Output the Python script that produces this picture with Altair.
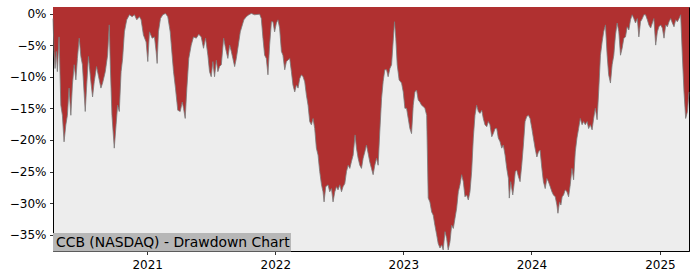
import altair as alt
import numpy as np
import pandas as pd

# Decimal-year time stamps and drawdown (%)
years = [
    2020.267, 2020.275, 2020.283, 2020.293, 2020.301, 2020.314, 2020.328, 2020.340, 2020.353, 2020.367,
    2020.379, 2020.392, 2020.406, 2020.418, 2020.432, 2020.445, 2020.457, 2020.471, 2020.484, 2020.496,
    2020.518, 2020.528, 2020.543, 2020.562, 2020.575, 2020.588, 2020.606, 2020.622, 2020.640, 2020.653,
    2020.674, 2020.692, 2020.705, 2020.713, 2020.726, 2020.744, 2020.758, 2020.770, 2020.783, 2020.797,
    2020.809, 2020.823, 2020.841, 2020.862, 2020.883, 2020.901, 2020.919, 2020.940, 2020.953, 2020.971,
    2020.992, 2021.005, 2021.018, 2021.039, 2021.057, 2021.070, 2021.078, 2021.088, 2021.104, 2021.122,
    2021.143, 2021.161, 2021.180, 2021.195, 2021.206, 2021.221, 2021.239, 2021.258, 2021.274, 2021.284,
    2021.297, 2021.310, 2021.325, 2021.344, 2021.362, 2021.383, 2021.403, 2021.422, 2021.440, 2021.456,
    2021.474, 2021.487, 2021.500, 2021.513, 2021.526, 2021.540, 2021.552, 2021.565, 2021.579, 2021.597,
    2021.612, 2021.630, 2021.644, 2021.657, 2021.669, 2021.683, 2021.696, 2021.708, 2021.727, 2021.743,
    2021.755, 2021.774, 2021.794, 2021.813, 2021.839, 2021.878, 2021.891, 2021.904, 2021.917, 2021.930,
    2021.943, 2021.956, 2021.970, 2021.982, 2021.995, 2022.009, 2022.021, 2022.034, 2022.048, 2022.060,
    2022.074, 2022.087, 2022.099, 2022.113, 2022.126, 2022.138, 2022.152, 2022.165, 2022.178, 2022.191,
    2022.204, 2022.217, 2022.230, 2022.243, 2022.256, 2022.269, 2022.282, 2022.295, 2022.308, 2022.321,
    2022.334, 2022.347, 2022.361, 2022.373, 2022.381, 2022.394, 2022.412, 2022.425, 2022.439, 2022.451,
    2022.465, 2022.478, 2022.490, 2022.504, 2022.517, 2022.529, 2022.543, 2022.556, 2022.569, 2022.582,
    2022.595, 2022.608, 2022.623, 2022.634, 2022.647, 2022.660, 2022.673, 2022.686, 2022.699, 2022.712,
    2022.725, 2022.738, 2022.751, 2022.764, 2022.777, 2022.791, 2022.803, 2022.816, 2022.830, 2022.842,
    2022.855, 2022.869, 2022.881, 2022.895, 2022.908, 2022.920, 2022.931, 2022.941, 2022.952, 2022.967,
    2022.986, 2022.999, 2023.012, 2023.025, 2023.038, 2023.051, 2023.064, 2023.077, 2023.090, 2023.103,
    2023.116, 2023.129, 2023.142, 2023.155, 2023.168, 2023.182, 2023.194, 2023.207, 2023.221, 2023.233,
    2023.246, 2023.260, 2023.272, 2023.286, 2023.299, 2023.311, 2023.325, 2023.338, 2023.350, 2023.364,
    2023.377, 2023.390, 2023.403, 2023.416, 2023.429, 2023.442, 2023.455, 2023.468, 2023.481, 2023.494,
    2023.507, 2023.520, 2023.533, 2023.546, 2023.559, 2023.572, 2023.585, 2023.598, 2023.612, 2023.624,
    2023.637, 2023.651, 2023.663, 2023.676, 2023.690, 2023.702, 2023.716, 2023.729, 2023.741, 2023.755,
    2023.768, 2023.780, 2023.794, 2023.807, 2023.820, 2023.827, 2023.838, 2023.854, 2023.864, 2023.874,
    2023.885, 2023.898, 2023.911, 2023.924, 2023.937, 2023.950, 2023.963, 2023.976, 2023.989, 2024.003,
    2024.015, 2024.028, 2024.042, 2024.054, 2024.067, 2024.081, 2024.093, 2024.107, 2024.120, 2024.132,
    2024.146, 2024.159, 2024.171, 2024.185, 2024.198, 2024.206, 2024.218, 2024.229, 2024.239, 2024.250,
    2024.263, 2024.276, 2024.289, 2024.302, 2024.315, 2024.328, 2024.341, 2024.354, 2024.367, 2024.380,
    2024.394, 2024.406, 2024.419, 2024.433, 2024.445, 2024.458, 2024.472, 2024.484, 2024.497, 2024.511,
    2024.523, 2024.537, 2024.550, 2024.562, 2024.576, 2024.589, 2024.601, 2024.615, 2024.628, 2024.641,
    2024.654, 2024.667, 2024.680, 2024.693, 2024.706, 2024.719, 2024.732, 2024.745, 2024.758, 2024.771,
    2024.784, 2024.797, 2024.810, 2024.824, 2024.836, 2024.849, 2024.863, 2024.875, 2024.888, 2024.902,
    2024.914, 2024.928, 2024.941, 2024.953, 2024.967, 2024.980, 2024.992, 2025.006, 2025.019, 2025.032,
    2025.045, 2025.058, 2025.071, 2025.084, 2025.097, 2025.110, 2025.123, 2025.136, 2025.149, 2025.162,
    2025.175, 2025.188, 2025.201, 2025.215, 2025.227,
]

drawdown = [
    -0.8, -6.0, -8.7, -6.0, -9.2, -3.7, -14.5, -16.1, -20.3, -17.6,
    -16.1, -11.8, -16.1, -11.3, -8.1, -10.5, -7.1, -3.9, -6.8, -8.1,
    -15.5, -11.8, -6.8, -10.8, -13.2, -10.8, -8.4, -10.0, -11.8, -11.0,
    -9.2, -6.6, -1.8, -8.1, -16.1, -21.3, -17.6, -14.5, -15.5, -9.2,
    -7.1, -2.9, -1.0, -0.2, -0.5, -0.2, -1.0, -0.5, -1.0, -3.4,
    -4.5, -7.6, -2.9, -3.9, -3.7, -6.0, -7.9, -2.9, -0.8, -0.2,
    0.0, -0.5, -2.9, -6.6, -9.2, -11.8, -15.3, -15.5, -14.0, -15.0,
    -16.6, -11.8, -7.1, -5.0, -3.7, -3.9, -3.3, -3.7, -5.5, -3.9,
    -6.6, -9.2, -10.0, -7.6, -10.0, -7.4, -9.2, -8.4, -8.1, -3.9,
    -5.5, -7.1, -5.0, -6.0, -7.1, -8.4, -7.1, -5.5, -2.9, -1.8,
    -1.0, -0.5, -0.2, 0.0, -0.2, -0.1, -0.8, -3.9, -6.6, -7.1,
    -9.7, -5.0, -1.3, -1.3, -2.9, -1.5, -1.0, -2.3, -6.0, -6.6,
    -8.9, -7.6, -7.4, -7.1, -9.2, -11.3, -12.4, -11.3, -11.8, -10.3,
    -9.7, -10.0, -10.8, -12.9, -14.5, -17.1, -17.6, -16.6, -18.2, -21.3,
    -22.4, -25.0, -27.1, -28.2, -29.8, -27.4, -27.1, -28.2, -27.7, -29.8,
    -28.2, -27.4, -27.9, -27.1, -28.2, -27.4, -26.9, -25.0, -24.0, -24.5,
    -23.4, -22.4, -19.2, -21.3, -22.9, -24.0, -24.5, -22.9, -21.9, -20.8,
    -22.1, -23.5, -24.5, -25.5, -24.0, -22.9, -24.0, -18.7, -13.4, -10.8,
    -8.9, -8.9, -10.0, -8.7, -8.1, -4.5, -1.3, -3.9, -8.1, -10.5,
    -11.0, -12.4, -15.0, -15.0, -16.6, -18.2, -19.0, -14.5, -12.4, -12.1,
    -13.7, -14.0, -14.5, -14.7, -15.0, -16.1, -29.2, -29.8, -31.4, -31.9,
    -33.5, -35.0, -36.4, -37.1, -36.6, -37.4, -34.5, -35.6, -37.4, -36.1,
    -33.5, -34.0, -32.4, -30.8, -28.2, -27.1, -25.5, -26.6, -29.0, -28.7,
    -29.5, -28.2, -25.0, -19.7, -16.1, -14.5, -15.5, -15.8, -15.3, -16.6,
    -17.6, -17.9, -17.1, -17.6, -19.5, -19.0, -18.2, -18.2, -19.7, -20.3,
    -21.3, -20.8, -22.4, -24.5, -26.1, -29.2, -26.6, -28.7, -27.1, -25.0,
    -24.8, -25.8, -26.6, -24.0, -20.8, -17.1, -16.3, -16.1, -16.6, -18.2,
    -19.7, -21.3, -22.7, -21.9, -21.6, -24.5, -26.6, -27.7, -26.1, -26.6,
    -27.4, -28.2, -28.7, -29.0, -30.3, -31.6, -29.8, -30.3, -29.0, -28.7,
    -27.9, -28.2, -29.0, -27.1, -24.5, -26.3, -21.9, -19.7, -18.2, -16.6,
    -17.6, -17.1, -17.6, -17.1, -18.2, -17.6, -18.4, -16.6, -15.0, -16.8,
    -12.4, -6.6, -4.5, -2.9, -1.8, -6.6, -9.7, -11.0, -8.1, -6.6,
    -3.4, -1.5, -2.9, -6.6, -5.5, -3.9, -3.7, -2.1, -2.6, -1.0,
    -0.2, -0.8, -1.5, -0.8, -3.7, -1.3, -0.8, -0.2, -0.2, -1.0,
    -1.8, -2.3, -1.5, -0.8, -5.0, -2.9, -2.1, -1.8, -2.3, -3.9,
    -1.8, -2.1, -1.3, -0.8, -1.5, -2.1, -1.0, -1.3, -0.8, -0.2,
    -6.6, -12.4, -16.6, -15.5, -12.4,
]

y_top = 1.03
y_bottom = -37.57
y_ticks = [-35, -30, -25, -20, -15, -10, -5, 0]
x_tick_years = [2021, 2022, 2023, 2024, 2025]
label_text = ["CCB (NASDAQ) - Drawdown Chart"]


def to_timestamp(y):
    yr = int(np.floor(y))
    start = pd.Timestamp(yr, 1, 1)
    end = pd.Timestamp(yr + 1, 1, 1)
    return start + (end - start) * (y - yr)


df = pd.DataFrame({
    "date": [to_timestamp(y) for y in years],
    "dd": drawdown,
})

FONT = "DejaVu Sans"


def x_enc():
    return alt.X(
        "date:T",
        scale=alt.Scale(nice=False),
        axis=alt.Axis(
            title=None,
            values=[alt.DateTime(year=y, month=1, date=1) for y in x_tick_years],
            format="%Y",
            labelFlush=False,
            labelOverlap=False,
            labelPadding=5,
        ),
    )


def y_enc():
    return alt.Y(
        "dd:Q",
        scale=alt.Scale(domain=[y_bottom, y_top], nice=False, zero=False),
        axis=alt.Axis(
            title=None,
            values=y_ticks,
            labelExpr="datum.value == 0 ? '0%' : '\u2212' + format(abs(datum.value), 'd') + '%'",
            labelPadding=3.5,
            labelOverlap=False,
            labelFlush=False,
            labelBound=False,
        ),
    )


area = alt.Chart(df).mark_area(color="#b03030", opacity=1).encode(
    x=x_enc(), y=y_enc(), y2=alt.Y2(datum=y_top)
)
edge = alt.Chart(df).mark_line(color="#7a7a7a", strokeWidth=1, opacity=0.8).encode(
    x=x_enc(), y=y_enc()
)

lab_df = pd.DataFrame({"label": label_text})
box = alt.Chart(lab_df).mark_rect(color="#b7b7b7").encode(
    x=alt.value(0), x2=alt.value(238), y=alt.value(226), y2=alt.value(244.5)
)
txt = alt.Chart(lab_df).mark_text(
    align="left", baseline="alphabetic", font=FONT, fontSize=13.9, color="black"
).encode(text="label:N", x=alt.value(3), y=alt.value(239.8))

chart = (
    alt.layer(area, edge, box, txt)
    .properties(
        width=636,
        height=244,
        autosize=alt.AutoSizeParams(type="none"),
        padding={"left": 53, "top": 7, "right": 11, "bottom": 29},
        background="white",
    )
    .configure_view(fill="#ededed", stroke="black", strokeWidth=1)
    .configure_axis(
        grid=False,
        domainColor="black",
        domainWidth=1,
        tickColor="black",
        tickWidth=0.8,
        tickSize=3.5,
        labelFont=FONT,
        labelFontSize=12,
        labelColor="black",
        labelOverlap=False,
    )
)

chart.save("out.html", embed_options={"renderer": "svg", "actions": False})
